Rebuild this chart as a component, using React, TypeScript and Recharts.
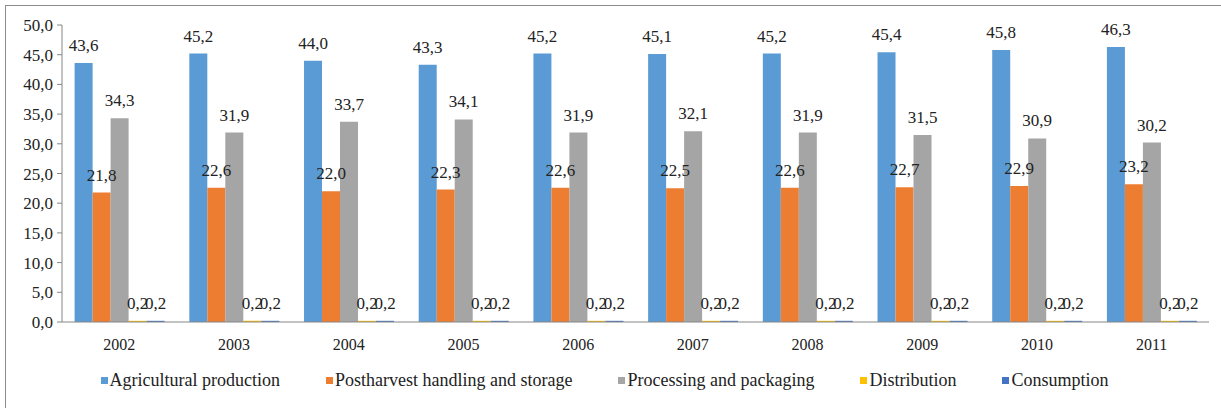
import React from "react";
import { BarChart, Bar, XAxis, YAxis, Legend, LabelList } from "recharts";

const years = ["2002", "2003", "2004", "2005", "2006", "2007", "2008", "2009", "2010", "2011"];
const agricultural = [43.6, 45.2, 44.0, 43.3, 45.2, 45.1, 45.2, 45.4, 45.8, 46.3];
const postharvest = [21.8, 22.6, 22.0, 22.3, 22.6, 22.5, 22.6, 22.7, 22.9, 23.2];
const processing = [34.3, 31.9, 33.7, 34.1, 31.9, 32.1, 31.9, 31.5, 30.9, 30.2];
const distribution = [0.2, 0.2, 0.2, 0.2, 0.2, 0.2, 0.2, 0.2, 0.2, 0.2];
const consumption = [0.2, 0.2, 0.2, 0.2, 0.2, 0.2, 0.2, 0.2, 0.2, 0.2];
const yTicks = [0, 5, 10, 15, 20, 25, 30, 35, 40, 45, 50];
const boundaryTicks = [0, 1, 2, 3, 4, 5, 6, 7, 8, 9, 10];

const SERIES = [
  { key: "agricultural", name: "Agricultural production", color: "#5B9BD5" },
  { key: "postharvest", name: "Postharvest handling and storage", color: "#ED7D31" },
  { key: "processing", name: "Processing and packaging", color: "#A5A5A5" },
  { key: "distribution", name: "Distribution", color: "#FFC000" },
  { key: "consumption", name: "Consumption", color: "#4472C4" },
];

const data = years.map((y, i) => ({
  year: y,
  agricultural: agricultural[i],
  postharvest: postharvest[i],
  processing: processing[i],
  distribution: distribution[i],
  consumption: consumption[i],
}));

const FONT = '"Times New Roman", Times, "Liberation Serif", "DejaVu Serif", serif';
const fmt = (v: any) => Number(v).toFixed(1).replace(".", ",");

// Excel-style legend, kept in series order
function LegendRow() {
  return (
    <div
      style={{
        display: "flex",
        justifyContent: "center",
        alignItems: "center",
        height: 36,
        gap: 46,
        fontFamily: FONT,
        fontSize: 18,
        color: "#222",
      }}
    >
      {SERIES.map((s) => (
        <span key={s.key} style={{ display: "inline-flex", alignItems: "center" }}>
          <span style={{ width: 7, height: 7, background: s.color, marginRight: 2, display: "inline-block" }} />
          {s.name}
        </span>
      ))}
    </div>
  );
}

export default function App() {
  return (
    <div style={{ position: "absolute", left: 0, top: 0, width: 1221, height: 408, background: "#fff", fontFamily: FONT }}>
      <div
        style={{
          position: "absolute",
          left: 5,
          top: 5,
          width: 1216,
          height: 403,
          borderTop: "1px solid #8c8c8c",
          borderLeft: "1px solid #8c8c8c",
        }}
      />
      <BarChart
        width={1221}
        height={408}
        data={data}
        margin={{ top: 25, right: 12, left: 0, bottom: 10 }}
        barCategoryGap="11%"
        barGap={0}
        style={{ position: "absolute", left: 0, top: 0, fontFamily: FONT }}
      >
        <XAxis
          xAxisId="bounds"
          type="number"
          domain={[0, 10]}
          ticks={boundaryTicks}
          tick={false}
          height={0}
          axisLine={false}
          tickLine={{ stroke: "#868686" }}
          tickSize={5}
        />
        <XAxis
          dataKey="year"
          xAxisId="cat"
          axisLine={{ stroke: "#868686" }}
          tickLine={false}
          tick={{ fontFamily: FONT, fontSize: 16, fill: "#222" }}
          tickMargin={11}
          height={40}
        />
        <YAxis
          domain={[0, 50]}
          ticks={yTicks}
          width={62}
          axisLine={{ stroke: "#868686" }}
          tickLine={{ stroke: "#868686" }}
          tickSize={5}
          tickMargin={4}
          tickFormatter={fmt}
          tick={{ fontFamily: FONT, fontSize: 17, fill: "#222" }}
          interval={0}
        />
        <Legend verticalAlign="bottom" height={36} content={<LegendRow />} />
        {SERIES.map((s) => (
          <Bar key={s.key} xAxisId="cat" dataKey={s.key} name={s.name} fill={s.color} isAnimationActive={false}>
            <LabelList
              dataKey={s.key}
              position="top"
              offset={12}
              formatter={fmt}
              style={{ fontFamily: FONT, fontSize: 17, fill: "#222" }}
            />
          </Bar>
        ))}
      </BarChart>
    </div>
  );
}
